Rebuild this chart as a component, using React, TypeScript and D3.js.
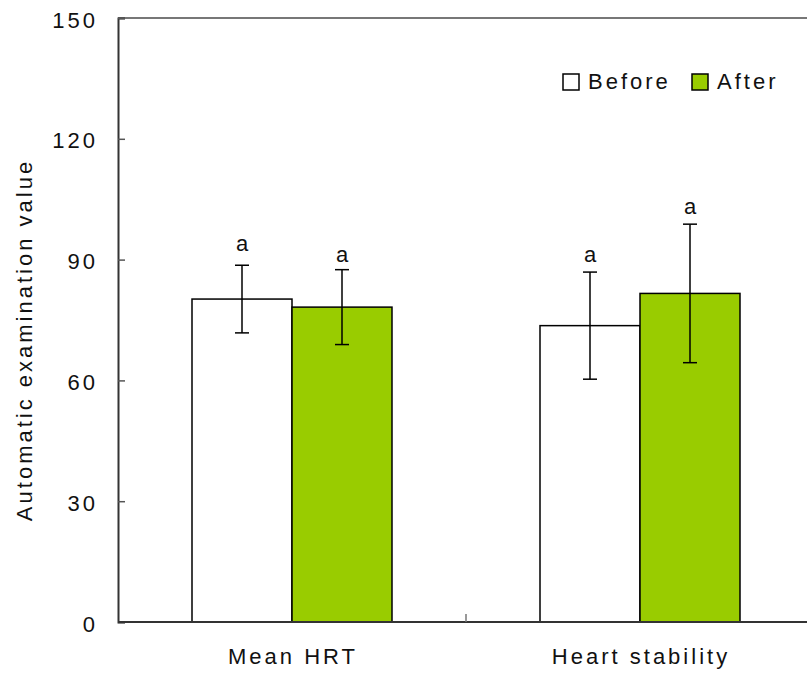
import React, { useRef, useEffect } from "react";
import * as d3 from "d3";

const categories = ["Mean HRT", "Heart stability"];
const seriesNames = ["Before", "After"];
const seriesColors = ["#ffffff", "#99cc00"];
const beforeValues = [80.2, 73.6];
const afterValues = [78.2, 81.6];
const beforeErrors = [8.4, 13.3];
const afterErrors = [9.3, 17.2];
const letterLabels = [["a", "a"], ["a", "a"]]; // [category][series]
const letterPositions = [[92.1, 89.4], [89.4, 101.3]];
const yTicks = [0, 30, 60, 90, 120, 150];

const FONT = "'Liberation Sans', Arial, sans-serif";

export default function App() {
  const ref = useRef<SVGSVGElement>(null);

  useEffect(() => {
    const width = 807, height = 675;
    const left = 118, top = 18, bottom = 622, right = 814;

    const svg = d3.select(ref.current);
    svg.selectAll("*").remove();
    svg.attr("width", width).attr("height", height);

    const y = d3.scaleLinear().domain([0, 150]).range([bottom, top]);
    const x0 = d3.scaleBand().domain(categories).range([left, right]).paddingInner(0).paddingOuter(0);
    const x1 = d3.scaleBand().domain(seriesNames).range([0, x0.bandwidth()]).paddingInner(0).paddingOuter(0.74);

    const values = [beforeValues, afterValues];
    const errors = [beforeErrors, afterErrors];

    // bars
    categories.forEach((c, ci) => {
      seriesNames.forEach((s, si) => {
        const v = values[si][ci];
        svg.append("rect")
          .attr("x", x0(c)! + x1(s)!)
          .attr("y", y(v))
          .attr("width", x1.bandwidth())
          .attr("height", y(0) - y(v))
          .attr("fill", seriesColors[si])
          .attr("stroke", "#000")
          .attr("stroke-width", 1.5);
      });
    });

    // error bars + letters
    categories.forEach((c, ci) => {
      seriesNames.forEach((s, si) => {
        const v = values[si][ci];
        const e = errors[si][ci];
        const cx = x0(c)! + x1(s)! + x1.bandwidth() / 2;
        const g = svg.append("g").attr("stroke", "#000").attr("stroke-width", 1.5);
        g.append("line").attr("x1", cx).attr("x2", cx).attr("y1", y(v + e)).attr("y2", y(v - e));
        g.append("line").attr("x1", cx - 7).attr("x2", cx + 7).attr("y1", y(v + e)).attr("y2", y(v + e));
        g.append("line").attr("x1", cx - 7).attr("x2", cx + 7).attr("y1", y(v - e)).attr("y2", y(v - e));
        svg.append("text")
          .attr("x", cx)
          .attr("y", y(letterPositions[ci][si]))
          .attr("text-anchor", "middle")
          .style("font-family", FONT)
          .style("font-size", "22px")
          .style("fill", "#111")
          .text(letterLabels[ci][si]);
      });
    });

    // frame: top line
    svg.append("line")
      .attr("x1", left).attr("x2", right).attr("y1", top).attr("y2", top)
      .attr("stroke", "#777").attr("stroke-width", 2);

    // y axis
    const yAxis = svg.append("g")
      .attr("transform", `translate(${left},0)`)
      .call(d3.axisRight(y).tickValues(yTicks).tickSize(7).tickFormat(() => ""));
    yAxis.select(".domain").attr("stroke", "#333").attr("stroke-width", 2);
    yAxis.selectAll(".tick line").attr("stroke", "#555").attr("stroke-width", 1.5);

    svg.append("g").selectAll("text")
      .data(yTicks)
      .join("text")
      .attr("x", 98)
      .attr("y", (d) => y(d) + 9.5)
      .attr("text-anchor", "end")
      .style("font-family", FONT)
      .style("font-size", "22px")
      .style("letter-spacing", "3px")
      .style("fill", "#111")
      .text((d) => d);

    // x axis
    svg.append("line")
      .attr("x1", left).attr("x2", right).attr("y1", bottom).attr("y2", bottom)
      .attr("stroke", "#333").attr("stroke-width", 2);
    svg.append("line")
      .attr("x1", x0(categories[1])!).attr("x2", x0(categories[1])!)
      .attr("y1", bottom).attr("y2", bottom - 8)
      .attr("stroke", "#777").attr("stroke-width", 1.5);

    svg.append("g").selectAll("text")
      .data(categories)
      .join("text")
      .attr("x", (d) => x0(d)! + x0.bandwidth() / 2 + 1)
      .attr("y", 664)
      .attr("text-anchor", "middle")
      .style("font-family", FONT)
      .style("font-size", "22px")
      .style("letter-spacing", "3px")
      .style("fill", "#111")
      .text((d) => d);

    // y title
    svg.append("text")
      .attr("transform", `translate(32,340) rotate(-90)`)
      .attr("text-anchor", "middle")
      .style("font-family", FONT)
      .style("font-size", "22px")
      .style("letter-spacing", "3px")
      .style("fill", "#111")
      .text("Automatic examination value");

    // legend
    const legendX = [563, 692];
    seriesNames.forEach((s, i) => {
      svg.append("rect")
        .attr("x", legendX[i]).attr("y", 74)
        .attr("width", 16).attr("height", 16)
        .attr("fill", seriesColors[i])
        .attr("stroke", "#000").attr("stroke-width", 1.5);
      svg.append("text")
        .attr("x", legendX[i] + 25).attr("y", 89)
        .style("font-family", FONT)
        .style("font-size", "22px")
        .style("letter-spacing", "3px")
        .style("fill", "#111")
        .text(s);
    });
  }, []);

  return (
    <div style={{ position: "absolute", left: 0, top: 0, width: 807, height: 675, overflow: "hidden", background: "#fff" }}>
      <svg ref={ref} style={{ display: "block" }}></svg>
    </div>
  );
}
